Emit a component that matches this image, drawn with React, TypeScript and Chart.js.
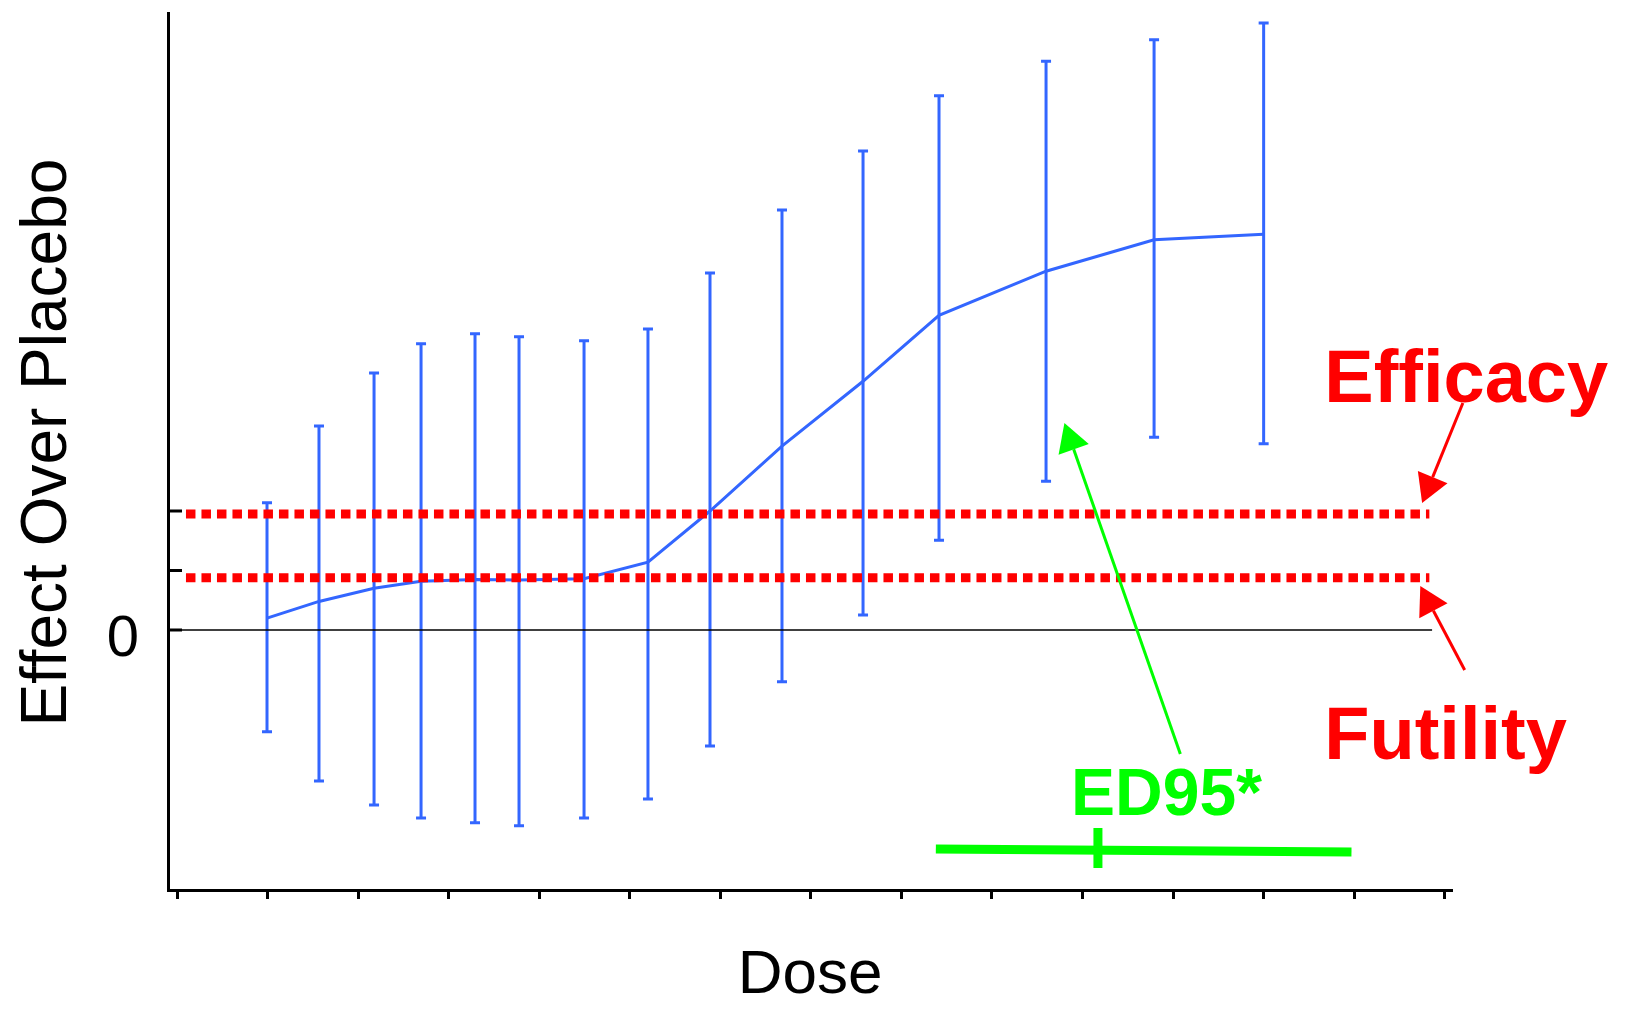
import React, { useEffect, useRef } from 'react';
import { Chart, registerables } from 'chart.js';

Chart.register(...registerables);

// ---- data (dose on an arbitrary linear scale, effect over placebo in arbitrary units) ----
const doses = [0.994, 1.568, 2.176, 2.695, 3.291, 3.777, 4.495, 5.201, 5.886, 6.681, 7.576, 8.415, 9.597, 10.79, 12.0];
const meanEffect = [0.2, 0.48, 0.7, 0.82, 0.85, 0.84, 0.86, 1.14, 2.0, 3.09, 4.18, 5.29, 6.03, 6.56, 6.65];
const upperCI = [2.14, 3.43, 4.32, 4.81, 4.98, 4.93, 4.86, 5.06, 6.0, 7.06, 8.05, 8.98, 9.56, 9.92, 10.2];
const lowerCI = [-1.71, -2.54, -2.94, -3.16, -3.24, -3.29, -3.16, -2.84, -1.95, -0.87, 0.25, 1.51, 2.5, 3.24, 3.13];

const efficacyLevel = 1.95;
const futilityLevel = 0.88;
const thresholdLineX = [0.099, 13.83];
const zeroLineX = [-0.0994, 13.86];

const xTicks = [0, 1, 2, 3, 4, 5, 6, 7, 8, 9, 10, 11, 12, 13, 14];
const yTicks = [0, 1, 2];
const yTickLabels = ['0', '', ''];

const ed95RangeX = [8.38, 12.97];
const ed95RangeY = [-3.68, -3.73];
const ed95Estimate = 10.17;
const ed95TickY = [-3.33, -4.0];

const xMin = -0.0994;
const xMax = 14.08;
const yMin = -4.37;
const yMax = 10.37;

const BLUE = '#3366FF';
const RED = '#FF0000';
const GREEN = '#00FF00';
const FONT = "'Liberation Sans', Arial, Helvetica, sans-serif";

const labels = [
  { text: 'Efficacy', x: 12.67, y: 3.83, color: RED, size: 74 },
  { text: 'Futility', x: 12.67, y: -2.17, color: RED, size: 74 },
  { text: 'ED95*', x: 9.873, y: -3.11, color: GREEN, size: 66 },
];

const arrows = [
  { from: [14.2, 3.815], to: [13.75, 2.134], color: RED },
  { from: [14.22, -0.672], to: [13.73, 0.739], color: RED },
  { from: [11.08, -2.084], to: [9.8, 3.48], color: GREEN },
];

const errorBarPlugin = {
  id: 'errorBars',
  beforeDatasetsDraw(chart: any) {
    const { ctx, scales } = chart;
    const xs = scales.x;
    const ys = scales.y;
    ctx.save();
    ctx.strokeStyle = BLUE;
    ctx.lineWidth = 3;
    doses.forEach((d, i) => {
      const px = xs.getPixelForValue(d);
      const top = ys.getPixelForValue(upperCI[i]);
      const bot = ys.getPixelForValue(lowerCI[i]);
      ctx.beginPath();
      ctx.moveTo(px, top);
      ctx.lineTo(px, bot);
      ctx.moveTo(px - 5, top);
      ctx.lineTo(px + 5, top);
      ctx.moveTo(px - 5, bot);
      ctx.lineTo(px + 5, bot);
      ctx.stroke();
    });
    ctx.restore();
  },
};

const decorPlugin = {
  id: 'decor',
  afterDraw(chart: any) {
    const { ctx, scales, chartArea } = chart;
    const xs = scales.x;
    const ys = scales.y;
    ctx.save();
    // inward y ticks
    ctx.strokeStyle = '#000';
    ctx.lineWidth = 3;
    yTicks.forEach((v) => {
      const py = ys.getPixelForValue(v);
      ctx.beginPath();
      ctx.moveTo(chartArea.left, py);
      ctx.lineTo(chartArea.left + 14, py);
      ctx.stroke();
    });
    // arrows
    arrows.forEach((a) => {
      const x1 = xs.getPixelForValue(a.from[0]);
      const y1 = ys.getPixelForValue(a.from[1]);
      const x2 = xs.getPixelForValue(a.to[0]);
      const y2 = ys.getPixelForValue(a.to[1]);
      const ang = Math.atan2(y2 - y1, x2 - x1);
      const headLen = 28;
      const headHalf = 16;
      const bx = x2 - headLen * Math.cos(ang);
      const by = y2 - headLen * Math.sin(ang);
      ctx.strokeStyle = a.color;
      ctx.fillStyle = a.color;
      ctx.lineWidth = 3;
      ctx.beginPath();
      ctx.moveTo(x1, y1);
      ctx.lineTo(bx, by);
      ctx.stroke();
      ctx.beginPath();
      ctx.moveTo(x2, y2);
      ctx.lineTo(bx + headHalf * Math.sin(ang), by - headHalf * Math.cos(ang));
      ctx.lineTo(bx - headHalf * Math.sin(ang), by + headHalf * Math.cos(ang));
      ctx.closePath();
      ctx.fill();
    });
    // labels
    ctx.textAlign = 'left';
    ctx.textBaseline = 'alphabetic';
    labels.forEach((l) => {
      ctx.fillStyle = l.color;
      ctx.font = `bold ${l.size}px ${FONT}`;
      ctx.fillText(l.text, xs.getPixelForValue(l.x), ys.getPixelForValue(l.y));
    });
    ctx.restore();
  },
};

export default function App() {
  const canvasRef = useRef<HTMLCanvasElement | null>(null);

  useEffect(() => {
    document.body.style.margin = '0';
    const canvas = canvasRef.current;
    if (!canvas) return;

    const pts = (xsArr: number[], ysArr: number[]) => xsArr.map((x, i) => ({ x, y: ysArr[i] }));

    const chart = new Chart(canvas, {
      type: 'line',
      data: {
        datasets: [
          {
            label: 'ED95 interval',
            data: pts(ed95RangeX, ed95RangeY),
            borderColor: GREEN,
            borderWidth: 9,
            pointRadius: 0,
            order: 0,
          },
          {
            label: 'ED95 estimate',
            data: pts([ed95Estimate, ed95Estimate], ed95TickY),
            borderColor: GREEN,
            borderWidth: 9,
            pointRadius: 0,
            order: 0,
          },
          {
            label: 'Efficacy threshold',
            data: pts(thresholdLineX, [efficacyLevel, efficacyLevel]),
            borderColor: RED,
            borderWidth: 9,
            borderDash: [9.5, 6],
            pointRadius: 0,
            order: 1,
          },
          {
            label: 'Futility threshold',
            data: pts(thresholdLineX, [futilityLevel, futilityLevel]),
            borderColor: RED,
            borderWidth: 9,
            borderDash: [9.5, 6],
            pointRadius: 0,
            order: 1,
          },
          {
            label: 'Mean effect',
            data: pts(doses, meanEffect),
            borderColor: BLUE,
            borderWidth: 3,
            pointRadius: 0,
            tension: 0,
            order: 2,
          },
          {
            label: 'Zero',
            data: pts(zeroLineX, [0, 0]),
            borderColor: '#000',
            borderWidth: 1.5,
            pointRadius: 0,
            order: 3,
          },
        ],
      },
      options: {
        responsive: false,
        animation: false,
        devicePixelRatio: 1,
        layout: { padding: { top: 13, right: 178, left: 0, bottom: 0 } },
        plugins: {
          legend: { display: false },
          tooltip: { enabled: false },
        },
        scales: {
          x: {
            type: 'linear',
            min: xMin,
            max: xMax,
            afterBuildTicks: (s: any) => {
              s.ticks = xTicks.map((v) => ({ value: v }));
            },
            afterFit: (s: any) => {
              s.height = 121;
              s.paddingLeft = 0;
              s.paddingRight = 0;
            },
            ticks: { callback: () => '', font: { size: 1 } },
            grid: {
              drawOnChartArea: false,
              drawTicks: true,
              tickLength: 9,
              tickWidth: 3,
              tickColor: '#000',
            },
            border: { display: true, width: 3, color: '#000' },
            title: {
              display: true,
              text: 'Dose',
              color: '#000',
              font: { family: FONT, size: 62, lineHeight: 1.1 },
              padding: { top: 0, bottom: 1 },
            },
          },
          y: {
            type: 'linear',
            min: yMin,
            max: yMax,
            afterBuildTicks: (s: any) => {
              s.ticks = yTicks.map((v) => ({ value: v }));
            },
            afterFit: (s: any) => {
              s.width = 168;
              s.paddingTop = 0;
              s.paddingBottom = 0;
            },
            ticks: {
              callback: (v: any) => {
                const i = yTicks.indexOf(Number(v));
                return i >= 0 ? yTickLabels[i] : '';
              },
              color: '#000',
              font: { family: FONT, size: 58 },
              padding: 29,
              labelOffset: 10,
            },
            grid: { drawOnChartArea: false, drawTicks: false },
            border: { display: true, width: 3, color: '#000' },
            title: {
              display: true,
              text: ' Effect Over Placebo',
              color: '#000',
              font: { family: FONT, size: 64 },
              padding: { top: 10, bottom: 0 },
            },
          },
        },
      },
      plugins: [errorBarPlugin, decorPlugin],
    } as any);

    return () => chart.destroy();
  }, []);

  return (
    <div style={{ width: 1630, height: 1011 }}>
      <canvas ref={canvasRef} width={1630} height={1011} style={{ display: 'block' }} />
    </div>
  );
}
